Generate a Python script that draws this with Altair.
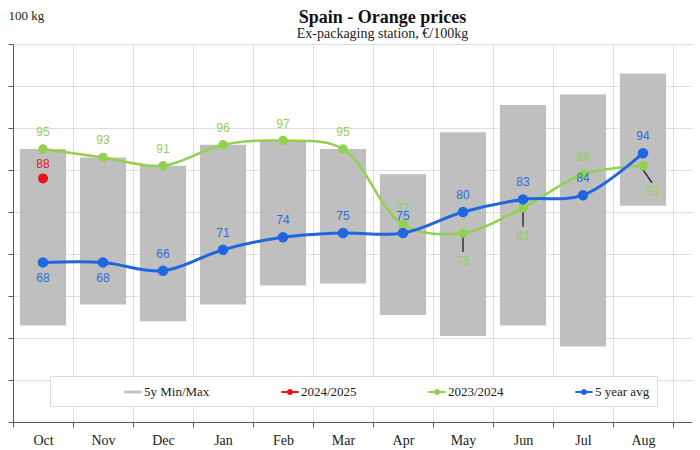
import altair as alt
import pandas as pd

months = ["Oct", "Nov", "Dec", "Jan", "Feb", "Mar", "Apr", "May", "Jun", "Jul", "Aug", "Sep"]
data_months = ["Oct", "Nov", "Dec", "Jan", "Feb", "Mar", "Apr", "May", "Jun", "Jul", "Aug"]
min5 = [53, 58, 54, 58, 62.5, 63, 55.5, 50.5, 53, 48, 81.5]
max5 = [95, 93, 91, 96, 97, 95, 89, 99, 105.5, 108, 113]
avg5 = [68, 68, 66, 71, 74, 75, 75, 80, 83, 84, 94]
y2324 = [95, 93, 91, 96, 97, 95, 77, 75, 81, 89, 91]
y2425_months = ["Oct"]
y2425 = [88]

series_names = ["5y Min/Max", "2024/2025", "2023/2024", "5 year avg"]
series_colors = ["#bfbfbf", "#e8141b", "#92d050", "#1f66e0"]

green_below = ["May", "Jun"]
green_below_right = ["Aug"]
blue_below = ["Oct", "Nov"]

bars_df = pd.DataFrame({"month": data_months, "lo": min5, "hi": max5, "series": "5y Min/Max"})
avg_df = pd.DataFrame({"month": data_months, "value": avg5, "series": "5 year avg"})
g_df = pd.DataFrame({"month": data_months, "value": y2324, "series": "2023/2024"})
r_df = pd.DataFrame({"month": y2425_months, "value": y2425, "series": "2024/2025"})

SERIF = "Liberation Serif"
SANS = "Liberation Sans"

line_shape = "M-1,-0.12H1V0.12H-1Z M-0.36,0A0.36,0.36,0,1,1,0.36,0A0.36,0.36,0,1,1,-0.36,0Z"
box_shape = "M-1,-0.16H1V0.16H-1Z"

legend = alt.Legend(
    title=None,
    orient="none",
    legendX=37,
    legendY=332,
    direction="horizontal",
    fillColor="white",
    strokeColor="#dcdcdc",
    padding=7,
    labelFont=SERIF,
    labelFontSize=13,
    labelColor="#222222",
    symbolSize=300,
    symbolType=alt.ExprRef(expr=f"datum.value === '5y Min/Max' ? '{box_shape}' : '{line_shape}'"),
    symbolStrokeWidth=0,
    symbolOffset=67,
    columnPadding=4,
    labelOffset=2,
)

color = alt.Color(
    "series:N",
    scale=alt.Scale(domain=series_names, range=series_colors),
    legend=legend,
)

x_enc = alt.X(
    "month:N",
    sort=months,
    scale=alt.Scale(domain=months, paddingInner=0, paddingOuter=0, range=[0, 720]),
    axis=alt.Axis(
        title=None,
        labelAngle=0,
        labelFont=SERIF,
        labelFontSize=14,
        labelColor="#222222",
        labelPadding=6,
        tickBand="extent",
        tickSize=5,
        tickColor="#595959",
        domainColor="#595959",
        grid=True,
        gridColor="#dedede",
    ),
)

y_axis = alt.Axis(
    title="100 kg",
    titleAngle=0,
    titleAlign="left",
    titleBaseline="alphabetic",
    titleX=-5,
    titleY=-25,
    titleFont=SERIF,
    titleFontSize=13,
    titleFontWeight="normal",
    titleColor="#222222",
    values=list(range(30, 121, 10)),
    labels=False,
    tickSize=5,
    tickColor="#595959",
    domainColor="#595959",
    gridColor="#dedede",
)
y_scale = alt.Scale(domain=[30, 120], nice=False, zero=False)

bars = alt.Chart(bars_df).mark_bar(width=alt.RelativeBandSize(0.77), opacity=1).encode(
    x=x_enc,
    y=alt.Y("lo:Q", scale=y_scale, axis=y_axis),
    y2="hi:Q",
    color=color,
)


def series_layers(df, width, size):
    line = alt.Chart(df).mark_line(interpolate="catmull-rom", strokeWidth=width).encode(
        x=x_enc, y=alt.Y("value:Q", scale=y_scale), color=color
    )
    pts = alt.Chart(df).mark_point(filled=True, size=size, opacity=1).encode(
        x=x_enc, y=alt.Y("value:Q", scale=y_scale), color=color
    )
    return line, pts


g_line, g_pts = series_layers(g_df, 2.5, 90)
b_line, b_pts = series_layers(avg_df, 3, 110)
r_pts = alt.Chart(r_df).mark_point(filled=True, size=100, opacity=1).encode(
    x=x_enc, y=alt.Y("value:Q", scale=y_scale), color=color
)


def labels(df, col, dy, dx=0, include=None, exclude=None, weight="normal"):
    c = alt.Chart(df)
    if include is not None:
        c = c.transform_filter(alt.FieldOneOfPredicate(field="month", oneOf=include))
    if exclude is not None:
        c = c.transform_filter({"not": alt.FieldOneOfPredicate(field="month", oneOf=exclude)})
    return c.mark_text(dy=dy, dx=dx, font=SANS, fontSize=12, color=col, fontWeight=weight).encode(
        x=x_enc, y=alt.Y("value:Q", scale=y_scale), text=alt.Text("value:Q")
    )


g_lab_up = labels(g_df, "#92d050", -17, exclude=green_below + green_below_right)
g_lab_down = labels(g_df, "#92d050", 28, include=green_below)
g_lab_dr = labels(g_df, "#92d050", 25, dx=10, include=green_below_right)
b_lab_up = labels(avg_df, "#2a6fd6", -17, exclude=blue_below)
b_lab_down = labels(avg_df, "#2a6fd6", 16, include=blue_below)
r_lab = labels(r_df, "#e8141b", -14)

lead_v = alt.Chart(g_df).transform_filter(
    alt.FieldOneOfPredicate(field="month", oneOf=green_below)
).mark_rule(color="#333333", strokeWidth=1.5, yOffset=4, y2Offset=19).encode(
    x=x_enc, y=alt.Y("value:Q", scale=y_scale), y2="value:Q"
)
lead_d = alt.Chart(g_df).transform_filter(
    alt.FieldOneOfPredicate(field="month", oneOf=green_below_right)
).mark_rule(color="#333333", strokeWidth=1.5, yOffset=4, y2Offset=17, x2Offset=9).encode(
    x=x_enc, x2="month:N", y=alt.Y("value:Q", scale=y_scale), y2="value:Q"
)

chart = alt.layer(
    bars, g_line, lead_v, lead_d, g_pts, b_line, b_pts, r_pts,
    g_lab_up, g_lab_down, g_lab_dr, b_lab_up, b_lab_down, r_lab,
).properties(
    width=679,
    height=378,
    autosize=alt.AutoSizeParams(type="none"),
    padding={"left": 5, "top": 36, "right": 0, "bottom": 28},
    title=alt.TitleParams(
        text="Spain  -  Orange  prices",
        subtitle="Ex-packaging  station,  €/100kg",
        font=SERIF,
        fontSize=18,
        fontWeight="bold",
        color="#111111",
        subtitleFont=SERIF,
        subtitleFontSize=14,
        subtitleColor="#222222",
        subtitlePadding=0,
        anchor="middle",
        dx=30,
        dy=38,
        offset=6,
    ),
).configure_view(stroke=None).configure(background="white")

chart.save("out.html", embed_options={"renderer": "svg", "actions": False})
